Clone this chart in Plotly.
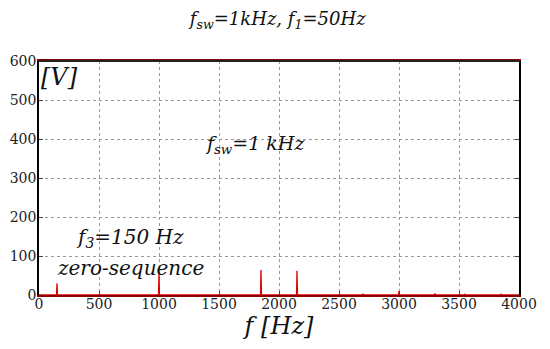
import plotly.graph_objects as go

# Spectrum of the zero-sequence voltage: harmonic frequencies [Hz] and amplitudes [V]
harm_freq = [150, 1000, 1850, 2150, 2700, 3000, 3300, 3550, 3850]
harm_amp = [30, 57, 64, 62, 3, 10, 4, 2, 2]

x_ticks = [0, 500, 1000, 1500, 2000, 2500, 3000, 3500, 4000]
y_ticks = [0, 100, 200, 300, 400, 500, 600]

# Build a spike line: baseline at zero with a narrow peak at each harmonic
fx, fy = [0], [0]
for f, a in zip(harm_freq, harm_amp):
    fx += [f - 4, f, f + 4]
    fy += [0, a, 0]
fx.append(4000)
fy.append(0)

SERIF = "DejaVu Serif"

fig = go.Figure()
fig.add_trace(go.Scatter(x=fx, y=fy, mode="lines",
                         line=dict(color="#e00000", width=1.3),
                         showlegend=False, hoverinfo="skip"))

fig.update_layout(
    width=550, height=349,
    margin=dict(l=39, r=31, t=61, b=54),
    paper_bgcolor="white", plot_bgcolor="white",
    font=dict(family=SERIF, color="#222", size=14),
    title=dict(text="<i>f<sub>sw</sub>=1kHz, f<sub>1</sub>=50Hz</i>",
               x=0.505, xanchor="center", y=0.945, yanchor="middle",
               font=dict(family=SERIF, size=18, color="#111")),
    xaxis=dict(range=[0, 4000], tickvals=x_ticks, ticks="inside", ticklen=4,
               showgrid=True, gridcolor="#999", griddash="dot", gridwidth=1,
               showline=True, linecolor="#8b0000", linewidth=2, mirror=True,
               zeroline=False, automargin=False,
               tickfont=dict(family=SERIF, size=14, color="#222"),
               ticklabelstandoff=-5,
               title=dict(text="<i>f [Hz]</i>", font=dict(family=SERIF, size=24, color="#111"), standoff=0)),
    yaxis=dict(range=[0, 600], tickvals=y_ticks, ticks="inside", ticklen=4,
               showgrid=True, gridcolor="#999", griddash="dot", gridwidth=1,
               showline=True, linecolor="black", linewidth=1.5, mirror="ticks",
               zeroline=False, automargin=False,
               tickfont=dict(family=SERIF, size=14, color="#222"),
               ticklabelstandoff=-2),
)

# Top border slightly heavier
fig.add_shape(type="line", xref="paper", yref="paper", x0=0, x1=1, y0=1, y1=1,
              line=dict(color="#222", width=2))

fig.add_annotation(text="<i>[V]</i>", xref="paper", yref="paper", x=0.0, y=1.0,
                   xanchor="left", yanchor="top", showarrow=False,
                   font=dict(family=SERIF, size=24, color="#111"))
fig.add_annotation(text="<i>f<sub>sw</sub>=1 kHz</i>", x=1800, y=385,
                   xanchor="center", yanchor="middle", showarrow=False,
                   font=dict(family=SERIF, size=19, color="#111"))
fig.add_annotation(text="<i>f<sub>3</sub>=150 Hz</i>", x=760, y=145,
                   xanchor="center", yanchor="middle", showarrow=False,
                   font=dict(family=SERIF, size=20, color="#111"))
fig.add_annotation(text="<i>zero-sequence</i>", x=760, y=68,
                   xanchor="center", yanchor="middle", showarrow=False,
                   font=dict(family=SERIF, size=20, color="#111"))

fig.write_html("out.html")
